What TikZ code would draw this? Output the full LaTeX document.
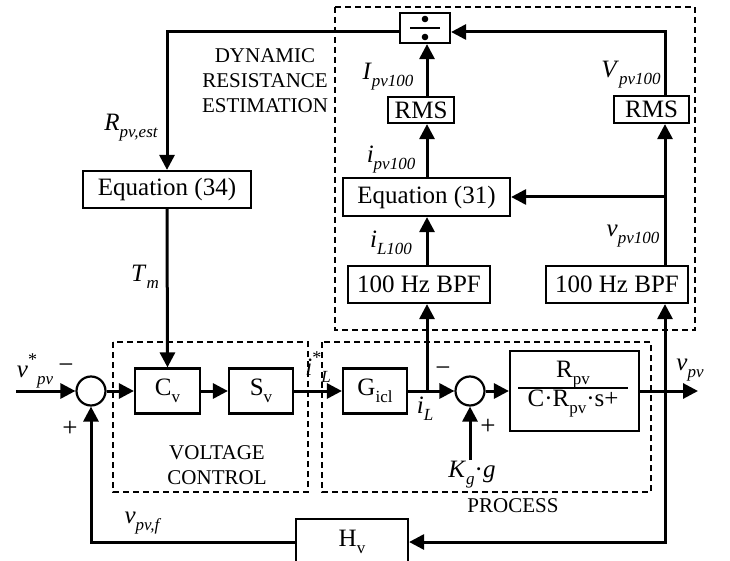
\documentclass[tikz,border=0pt]{standalone}
\usepackage{fontspec}
\setmainfont{Liberation Serif}
\usetikzlibrary{arrows.meta}
\newcommand{\sbx}[2]{#1\raisebox{-0.28em}{\fontsize{17}{17}\selectfont #2}}
\newcommand{\isb}[2]{\textit{#1}\raisebox{-0.28em}{\fontsize{17}{17}\selectfont\itshape #2}}
\begin{document}
\begin{tikzpicture}[x=1pt,y=-1pt,
 blk/.style={draw,line width=2.2pt,inner sep=0pt,font=\fontsize{25}{28}\selectfont},
 arr/.style={line width=3pt,-{Triangle[length=15pt,width=15pt]}},
 sumc/.style={draw,circle,line width=2.2pt,minimum size=29pt,inner sep=0pt},
 grp/.style={line width=1.6pt,dash pattern=on 6pt off 4pt},
 lab/.style={font=\fontsize{25}{28}\selectfont,inner sep=0pt},
 sgn/.style={font=\fontsize{27}{28}\selectfont,inner sep=0pt},
 captxt/.style={font=\fontsize{21}{25}\selectfont,align=center,inner sep=0pt}]
\path[use as bounding box] (0,0) rectangle (730,561);
% groups
\draw[grp] (335,7) rectangle (695,330);
\draw[grp] (113,342) rectangle (308,492);
\draw[grp] (322,342) rectangle (651,492);
% blocks
\node[blk,minimum width=50pt,minimum height=30pt] (div) at (425,28) {};
\fill ([yshift=9pt]div.center) circle (3.3pt);
\fill ([yshift=-9pt]div.center) circle (3.3pt);
\draw[line width=2.2pt] ([xshift=-15pt]div.center) -- ([xshift=15pt]div.center);
\node[blk,minimum width=66pt,minimum height=26pt] (rmsL) at (421,110) {RMS};
\node[blk,minimum width=75pt,minimum height=27pt] (rmsR) at (651.5,109.5) {RMS};
\node[blk,minimum width=167pt,minimum height=38pt] (eq31) at (426.5,197) {Equation (31)};
\node[blk,minimum width=142pt,minimum height=37pt] (bpfL) at (419,284.5) {100 Hz BPF};
\node[blk,minimum width=142pt,minimum height=37pt] (bpfR) at (617,284.5) {100 Hz BPF};
\node[blk,minimum width=168pt,minimum height=37pt] (eq34) at (167,189.5) {Equation (34)};
\node[blk,minimum width=65pt,minimum height=45pt] (cv) at (167.5,391) {\sbx{C}{v}};
\node[blk,minimum width=64pt,minimum height=45pt] (sv) at (261,391) {\sbx{S}{v}};
\node[blk,minimum width=64pt,minimum height=45pt] (gicl) at (375,391) {\sbx{G}{icl}};
\node[blk,minimum width=129pt,minimum height=80pt] (plant) at (574.5,391) {};
\node[lab] (num) at (573,375) {\sbx{R}{pv}};
\node[lab] (den) at (573,404) {C·\sbx{R}{pv}·s+};
\draw[line width=2.2pt] (518,388) -- (628,388);
\node[blk,minimum width=112pt,minimum height=46pt] (hv) at (352,542) {\sbx{H}{v}};
\node[sumc] (s1) at (91,391) {};
\node[sumc] (s2) at (470,391) {};
% coordinates
\coordinate (tl) at (167,32);
\coordinate (jL) at (427,391);
\coordinate (jV) at (665,391);
\coordinate (in) at (16,391);
\coordinate (out) at (698,391);
\coordinate (kg) at (470,460);
\coordinate (jE) at (665,197);
% connectors
\draw[arr] (in) -- (s1.west);
\draw[arr] (s1.east) -- (cv.west);
\draw[arr] (cv.east) -- (sv.west);
\draw[arr] (sv.east) -- (gicl.west);
\draw[arr] (gicl.east) -- (s2.west);
\draw[arr] (s2.east) -- (plant.west);
\draw[arr] (plant.east) -- (out);
\draw[arr] (kg) -- (s2.south);
\draw[arr] (jL) -- (bpfL.south -| jL);
\draw[arr] (bpfL.north -| jL) -- (eq31.south -| jL);
\draw[arr] (eq31.north -| jL) -- (rmsL.south -| jL);
\draw[arr] (rmsL.north -| jL) -- (div.south -| jL);
\draw[arr] (jV) -- (bpfR.south -| jV);
\draw[arr] (jV) |- (hv.east);
\draw[arr] (hv.west) -| (s1.south);
\draw[arr] (bpfR.north -| jV) -- (rmsR.south -| jV);
\draw[arr] (jE) -- (eq31.east);
\draw[arr] (rmsR.north -| jV) |- (div.east |- tl);
\draw[arr] (div.west |- tl) -| (eq34.north);
\draw[arr] (eq34.south) -- (cv.north);
% labels
\node[captxt] (dre) at (265,81) {DYNAMIC\\RESISTANCE\\ESTIMATION};
\node[captxt] (vc) at (217,465) {VOLTAGE\\CONTROL};
\node[captxt] (pr) at (513,506) {PROCESS};
\node[lab] (rest) at (131,128) {\isb{R}{pv,est}};
\node[lab] (tm) at (145,277) {\isb{T}{m}};
\node[lab] (ipv) at (388,77) {\isb{I}{pv100}};
\node[lab] (ipvs) at (391,160) {\isb{i}{pv100}};
\node[lab] (il100) at (391,243) {\isb{i}{L100}};
\node[lab] (Vpv) at (631,75) {\isb{V}{pv100}};
\node[lab] (vpv100) at (633,236) {\isb{v}{pv100}};
\node[lab] (vref) at (35,371) {\textit{v}\raisebox{0.5em}{\fontsize{18}{18}\selectfont *}\raisebox{-0.28em}{\fontsize{17}{17}\selectfont\itshape pv}};
\node[lab] (istar) at (318,367) {\textit{i}\raisebox{0.5em}{\fontsize{18}{18}\selectfont *}\raisebox{-0.28em}{\fontsize{17}{17}\selectfont\itshape L}};
\node[lab] (il) at (425,409) {\isb{i}{L}};
\node[lab] (kgl) at (472,475) {\textit{K}\raisebox{-0.28em}{\fontsize{17}{17}\selectfont\itshape g}·\textit{g}};
\node[lab] (vpv) at (690,370) {\isb{v}{pv}};
\node[lab] (vpvf) at (142,523) {\isb{v}{pv,f}};
\node[sgn] (m1) at (66,369) {−};
\node[sgn] (p1) at (70,429) {+};
\node[sgn] (m2) at (443,372) {−};
\node[sgn] (p2) at (488,427) {+};
\end{tikzpicture}
\end{document}
